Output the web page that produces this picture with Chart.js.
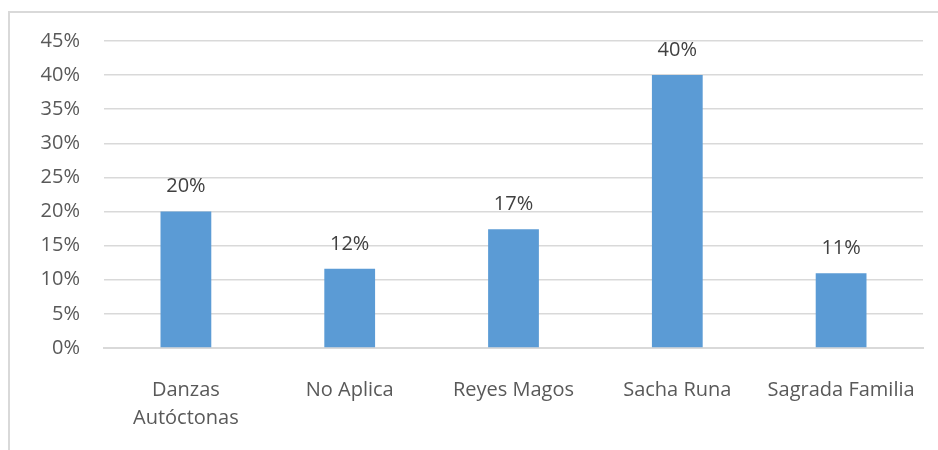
<!DOCTYPE html>
<html lang="es">
<head>
<meta charset="UTF-8">
<title>Danzas</title>
<script src="https://cdn.jsdelivr.net/npm/chart.js"></script>
<style>
  body, html { margin: 0; padding: 0; background: #fff; }
  #wrap { position: relative; width: 938px; height: 450px; }
</style>
</head>
<body>
<div id="wrap"><canvas id="chart" width="938" height="450"></canvas></div>
<script>
const categories = [['Danzas', 'Autóctonas'], 'No Aplica', 'Reyes Magos', 'Sacha Runa', 'Sagrada Familia'];
const values = [20, 11.6, 17.4, 40, 10.95];
const yTicks = [0, 5, 10, 15, 20, 25, 30, 35, 40, 45];

const FONT = "'Open Sans', sans-serif";

// frame around the chart like the office chart border
const framePlugin = {
  id: 'frame',
  beforeDraw(chart) {
    const c = chart.ctx;
    c.save();
    c.strokeStyle = '#d9d9d9';
    c.lineWidth = 2;
    c.strokeRect(9, 12, 950, 460);
    c.restore();
  }
};

const labelPlugin = {
  id: 'barLabels',
  afterDatasetsDraw(chart) {
    const c = chart.ctx;
    c.save();
    c.fillStyle = '#404040';
    c.font = '20px ' + FONT;
    c.textAlign = 'center';
    c.textBaseline = 'bottom';
    chart.getDatasetMeta(0).data.forEach((bar, i) => {
      c.fillText(Math.round(values[i]) + '%', bar.x, bar.y - 15);
    });
    c.restore();
  }
};

new Chart(document.getElementById('chart'), {
  type: 'bar',
  data: {
    labels: categories,
    datasets: [{
      data: values,
      backgroundColor: '#5b9bd5',
      borderColor: '#5b9bd5',
      categoryPercentage: 1,
      barPercentage: 0.31
    }]
  },
  options: {
    responsive: false,
    animation: false,
    layout: { padding: { left: 0, top: 41, right: 15, bottom: 0 } },
    plugins: { legend: { display: false }, tooltip: { enabled: false } },
    scales: {
      x: {
        grid: { display: false },
        border: { color: '#d9d9d9', width: 2 },
        ticks: { color: '#595959', font: { family: FONT, size: 20, lineHeight: 1.4 }, padding: 20, maxRotation: 0 },
        afterFit(s) { s.height = 102; }
      },
      y: {
        min: 0,
        max: 45,
        afterBuildTicks(s) { s.ticks = yTicks.map(v => ({ value: v })); },
        grid: { color: '#d9d9d9', lineWidth: 1.5, drawTicks: false },
        border: { display: false },
        ticks: {
          color: '#595959',
          font: { family: FONT, size: 20 },
          padding: 24,
          callback: v => v + '%'
        },
        afterFit(s) { s.width = 104; }
      }
    }
  },
  plugins: [framePlugin, labelPlugin]
});
</script>
</body>
</html>
